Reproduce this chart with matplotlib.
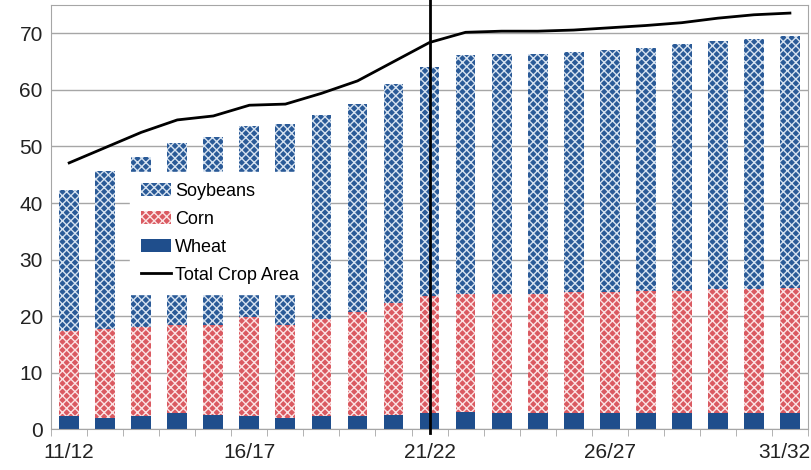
import numpy as np
import matplotlib.pyplot as plt
import matplotlib.transforms as mtransforms
from matplotlib.lines import Line2D
from matplotlib.patches import Patch

plt.rcParams['font.family'] = ['Liberation Sans', 'DejaVu Sans']
plt.rcParams['hatch.linewidth'] = 1.0

## DATA (million hectares)
years = ['11/12', '12/13', '13/14', '14/15', '15/16', '16/17', '17/18', '18/19',
         '19/20', '20/21', '21/22', '22/23', '23/24', '24/25', '25/26', '26/27',
         '27/28', '28/29', '29/30', '30/31', '31/32']
wheat = [2.3, 2.0, 2.3, 2.8, 2.5, 2.3, 2.0, 2.3, 2.3, 2.5, 2.8,
         3.1, 2.8, 2.8, 2.8, 2.8, 2.8, 2.8, 2.8, 2.8, 2.8]
corn = [15.1, 15.7, 15.7, 15.6, 15.9, 17.5, 16.5, 17.2, 18.5, 19.8, 20.8,
        20.8, 21.1, 21.1, 21.4, 21.4, 21.6, 21.6, 21.9, 21.9, 22.2]
soybeans = [24.9, 27.9, 30.2, 32.3, 33.3, 33.8, 35.4, 36.0, 36.8, 38.8, 40.5,
            42.3, 42.5, 42.5, 42.6, 42.8, 43.1, 43.7, 43.9, 44.4, 44.6]
total_area = [47.1, 49.8, 52.5, 54.7, 55.4, 57.3, 57.5, 59.4, 61.6, 65.0, 68.4,
              70.2, 70.4, 70.4, 70.6, 71.0, 71.4, 71.9, 72.7, 73.3, 73.6]
marker_year = '21/22'

## PLOT
x = np.arange(len(years))
wheat = np.array(wheat)
corn = np.array(corn)
soybeans = np.array(soybeans)

WHEAT_C = '#1F4E8C'
CORN_FACE, CORN_HATCH = '#DA5A61', '#FBE3E4'
SOY_FACE, SOY_HATCH = '#2A5A97', '#D6E2F0'

fig = plt.figure(figsize=(8.12, 4.70), dpi=100)
ax = fig.add_axes([0.063, 0.087, 0.932, 0.902])

w = 0.55
ax.bar(x, wheat, w, color=WHEAT_C, linewidth=0, zorder=2)
ax.bar(x, corn, w, bottom=wheat, color=CORN_FACE, edgecolor=CORN_HATCH,
       hatch='xxxx', linewidth=0, zorder=2)
ax.bar(x, soybeans, w, bottom=wheat + corn, color=SOY_FACE, edgecolor=SOY_HATCH,
       hatch='xxxx', linewidth=0, zorder=2)
ax.plot(x, total_area, color='black', linewidth=2.0, zorder=3)

# projection start marker
xi = years.index(marker_year)
ax.axvline(xi, ymin=-0.008, ymax=1.02, color='black', linewidth=2.0,
           clip_on=False, zorder=4)

ax.set_xlim(-0.5, len(years) - 0.5)
ax.set_ylim(0, 75)
ax.set_yticks(np.arange(0, 71, 10))
ax.yaxis.grid(True, color='#A6A6A6', linewidth=1.0)
ax.set_axisbelow(True)
ax.tick_params(axis='y', length=0, labelsize=15, pad=6, colors='#222222')

ax.set_xticks(x[::5])
ax.set_xticklabels(years[::5])
ax.set_xticks(np.arange(-0.5, len(years), 1), minor=True)
ax.tick_params(axis='x', which='major', length=0, labelsize=15, pad=10,
               colors='#222222')
ax.tick_params(axis='x', which='minor', length=5, color='#A6A6A6')
# nudge last label so it stays inside the figure
last = ax.get_xticklabels()[-1]
last.set_transform(last.get_transform() +
                   mtransforms.ScaledTranslation(-6 / 100, 0, fig.dpi_scale_trans))
for s in ax.spines.values():
    s.set_color('#A6A6A6')

handles = [Patch(facecolor=SOY_FACE, edgecolor=SOY_HATCH, hatch='xxxx', linewidth=0),
           Patch(facecolor=CORN_FACE, edgecolor=CORN_HATCH, hatch='xxxx', linewidth=0),
           Patch(facecolor=WHEAT_C, linewidth=0),
           Line2D([0], [0], color='black', linewidth=2.0)]
leg = ax.legend(handles, ['Soybeans', 'Corn', 'Wheat', 'Total Crop Area'],
                loc='upper left', bbox_to_anchor=(0.104, 0.606), fontsize=13,
                frameon=True, fancybox=False, framealpha=1, edgecolor='white',
                handlelength=1.7, handletextpad=0.2, labelspacing=0.6,
                borderpad=0.6, borderaxespad=0)
leg.set_zorder(5)

fig.savefig('out.png', dpi=100)
